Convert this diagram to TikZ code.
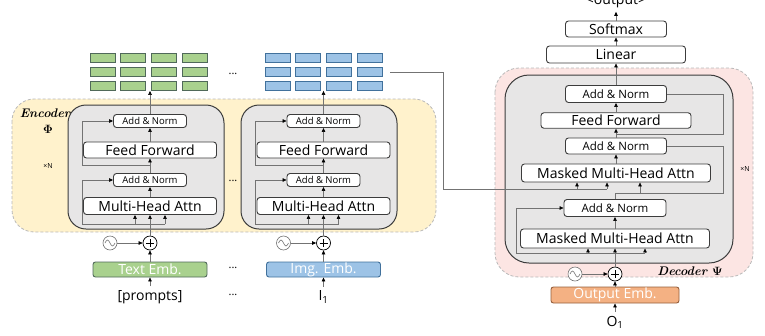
\documentclass[tikz,border=0pt]{standalone}
\usepackage{amsmath}
\usepackage{fontspec}
\setsansfont{Open Sans}
\usetikzlibrary{arrows.meta}

\definecolor{encfill}{RGB}{255,242,204}
\definecolor{decfill}{RGB}{252,229,227}
\definecolor{blockfill}{RGB}{231,230,230}
\definecolor{dashgray}{RGB}{185,185,185}
\definecolor{linegray}{RGB}{115,115,115}
\definecolor{boxline}{RGB}{60,60,60}
\definecolor{txtgreen}{RGB}{169,209,142}
\definecolor{txtgreenline}{RGB}{80,105,90}
\definecolor{imgblue}{RGB}{157,195,230}
\definecolor{imgblueline}{RGB}{65,113,156}
\definecolor{outorange}{RGB}{244,177,131}
\definecolor{outorangeline}{RGB}{150,95,60}

\tikzset{
  layerbox/.style={draw=boxline, fill=white, line width=0.9pt, rounded corners=3pt, inner sep=0pt, font=\sffamily\fontsize{14}{16}\selectfont},
  normbox/.style={layerbox, font=\sffamily\fontsize{9.5}{11}\selectfont},
  dnormbox/.style={layerbox, font=\sffamily\fontsize{11.5}{13}\selectfont},
  embbox/.style={draw=#1line, fill=#1, line width=0.9pt, rounded corners=2.5pt, inner sep=0pt, text=white, font=\sffamily\fontsize{14}{16}\selectfont},
  cell/.style={draw=#1line, fill=#1, line width=0.8pt, inner sep=0pt, minimum width=25pt, minimum height=9pt},
  plusnode/.style={circle, draw=black, fill=white, line width=0.7pt, inner sep=0pt, minimum size=14pt},
  sinenode/.style={circle, draw=linegray, fill=white, line width=0.6pt, inner sep=0pt, minimum size=14pt},
  plaintext/.style={inner sep=0pt, outer sep=4pt, font=\sffamily\fontsize{14}{16}\selectfont},
  dotstext/.style={inner sep=0pt, font=\sffamily\fontsize{11}{12}\selectfont},
  repeattext/.style={inner sep=0pt, font=\sffamily\fontsize{7}{8}\selectfont},
  parttext/.style={inner sep=0pt, font=\rmfamily\bfseries\itshape\fontsize{12.5}{14}\selectfont},
  wire/.style={draw=linegray, line width=0.6pt},
  feed/.style={wire, -{Triangle[length=4pt,width=3.5pt,black]}},
}

\begin{document}
\begin{tikzpicture}[x=1pt,y=1pt,yscale=-1,xscale=1]
\useasboundingbox (0,0) rectangle (765,335);

%Shape: Encoder frame
\draw [dashgray, fill=encfill, dash pattern=on 3pt off 2pt, line width=0.8pt, rounded corners=22pt] (12,99) rectangle (436,232);
%Shape: Decoder frame
\draw [dashgray, fill=decfill, dash pattern=on 3pt off 2pt, line width=0.8pt, rounded corners=24pt] (495,68) rectangle (753,277);
%Shape: Layer blocks
\draw [boxline, fill=blockfill, line width=1pt, rounded corners=18pt] (68,105) rectangle (224,229);
\draw [boxline, fill=blockfill, line width=1pt, rounded corners=18pt] (241,105) rectangle (397,229);
\draw [boxline, fill=blockfill, line width=1pt, rounded corners=24pt] (505,75) rectangle (733,263);

%Shape: Token grids
\foreach \c [count=\j] in {-46,-15.3,15.3,46} {
  \foreach \r [count=\i] in {57.5,71.8,86} {
    \node [cell=txtgreen] (gA\j\i) at (148.5+\c,\r) {};
    \node [cell=imgblue] (gB\j\i) at (323.5+\c,\r) {};
  }
}

% Encoder, text branch
\node [normbox, minimum width=73pt, minimum height=13pt] (aAN2) at (150,121) {Add \& Norm};
\node [layerbox, minimum width=133pt, minimum height=16pt] (aFF) at (150,150) {Feed Forward};
\node [normbox, minimum width=73pt, minimum height=13pt] (aAN1) at (150,180) {Add \& Norm};
\node [layerbox, minimum width=133pt, minimum height=17pt] (aMHA) at (150,206) {Multi-Head Attn};
\node [plusnode] (aPlus) at (150,243) {};
\node [sinenode] (aSine) at (110,243) {};
\node [embbox=txtgreen, minimum width=114pt, minimum height=15pt] (aEmb) at (150,269.5) {Text Emb.};
\node [plaintext] (aIn) at (150,297) {[prompts]};

% Encoder, image branch
\node [normbox, minimum width=73pt, minimum height=13pt] (bAN2) at (323.5,121) {Add \& Norm};
\node [layerbox, minimum width=133pt, minimum height=16pt] (bFF) at (323.5,150) {Feed Forward};
\node [normbox, minimum width=73pt, minimum height=13pt] (bAN1) at (323.5,180) {Add \& Norm};
\node [layerbox, minimum width=133pt, minimum height=17pt] (bMHA) at (323.5,206) {Multi-Head Attn};
\node [plusnode] (bPlus) at (323.5,243) {};
\node [sinenode] (bSine) at (283.5,243) {};
\node [embbox=imgblue, minimum width=114pt, minimum height=15pt] (bEmb) at (323.5,269.5) {Img. Emb.};
\node [plaintext] (bIn) at (323.5,297) {I\textsubscript{1}};

% Decoder
\node [plaintext] (dOut) at (616,1.5) {<output>};
\node [layerbox, minimum width=101pt, minimum height=16pt] (dSoft) at (616,29) {Softmax};
\node [layerbox, minimum width=139pt, minimum height=17pt] (dLin) at (616,54.5) {Linear};
\node [dnormbox, minimum width=101pt, minimum height=17pt] (dAN3) at (616,94) {Add \& Norm};
\node [layerbox, minimum width=150pt, minimum height=15.5pt] (dFF) at (616,120.5) {Feed Forward};
\node [dnormbox, minimum width=101pt, minimum height=16pt] (dAN2) at (616,146) {Add \& Norm};
\node [layerbox, minimum width=189pt, minimum height=18pt] (dMHA2) at (616,173) {Masked Multi-Head Attn};
\node [dnormbox, minimum width=102pt, minimum height=17pt] (dAN1) at (615,208) {Add \& Norm};
\node [layerbox, minimum width=189pt, minimum height=19pt] (dMHA1) at (615,238.5) {Masked Multi-Head Attn};
\node [plusnode] (dPlus) at (615,274) {};
\node [sinenode] (dSine) at (575,274) {};
\node [embbox=outorange, minimum width=128pt, minimum height=16pt] (dEmb) at (615,295) {Output Emb.};
\node [plaintext] (dIn) at (615,322) {O\textsubscript{1}};

% Text Node
\node [parttext] (encName) at (45,113) {Encoder};
\node [parttext] (encSym) at (48,129.5) {$\boldsymbol{\Phi}$};
\node [parttext] (decName) at (690,271) {Decoder $\boldsymbol{\Psi}$};
\node [repeattext] (encN) at (48,166) {×N};
\node [repeattext] (decN) at (745,169) {×N};
\node [dotstext] (dotsA) at (233,74) {...};
\node [dotstext] (dotsB) at (233,181) {...};
\node [dotstext] (dotsC) at (233,268) {...};
\node [dotstext] (dotsD) at (233,295) {...};

%Shape: Positional symbols
\foreach \s in {aSine,bSine,dSine} {
  \draw [linegray, line width=0.6pt] ([xshift=-5pt]\s.center) sin ++(2.5,-3) cos ++(2.5,3) sin ++(2.5,3) cos ++(2.5,-3);
}
\foreach \p in {aPlus,bPlus,dPlus} {
  \draw [black, line width=0.7pt] ([yshift=-4pt]\p.center) -- ([yshift=4pt]\p.center);
  \draw [black, line width=0.7pt] ([xshift=-4pt]\p.center) -- ([xshift=4pt]\p.center);
}

%Straight Lines: text branch
\coordinate (aQ) at (135,224);
\coordinate (aV) at (165,224);
\coordinate (aRes1) at (82,224);
\coordinate (aRes2) at (82,165);
\draw [feed] (aIn) -- (aEmb);
\draw [feed] (aEmb) -- (aPlus);
\draw [feed] (aSine) -- (aPlus);
\draw [feed] (aPlus) -- (aMHA);
\draw [feed] (aQ) -- (aQ |- aMHA.south);
\draw [feed] (aV) -- (aV |- aMHA.south);
\draw [feed] (aV) -- (aRes1) |- (aAN1.west);
\draw [feed] (aMHA) -- (aAN1);
\draw [feed] (aAN1) -- (aFF);
\draw [feed] (aRes2 -| aFF) -- (aRes2) |- (aAN2.west);
\draw [feed] (aFF) -- (aAN2);
\draw [feed] (aAN2) -- (aAN2 |- gA23.south);

%Straight Lines: image branch
\coordinate (bQ) at (308.5,224);
\coordinate (bV) at (338.5,224);
\coordinate (bRes1) at (255.5,224);
\coordinate (bRes2) at (255.5,165);
\draw [feed] (bIn) -- (bEmb);
\draw [feed] (bEmb) -- (bPlus);
\draw [feed] (bSine) -- (bPlus);
\draw [feed] (bPlus) -- (bMHA);
\draw [feed] (bQ) -- (bQ |- bMHA.south);
\draw [feed] (bV) -- (bV |- bMHA.south);
\draw [feed] (bV) -- (bRes1) |- (bAN1.west);
\draw [feed] (bMHA) -- (bAN1);
\draw [feed] (bAN1) -- (bFF);
\draw [feed] (bRes2 -| bFF) -- (bRes2) |- (bAN2.west);
\draw [feed] (bFF) -- (bAN2);
\draw [feed] (bAN2) -- (bAN2 |- gB23.south);

%Straight Lines: encoder memory into decoder
\coordinate (eBend) at (443,189);
\coordinate (dK2) at (577,189);
\coordinate (dV2) at (607,189);
\draw [wire] ([xshift=8pt]gB42.east) -| (eBend) -- (dV2);
\draw [feed] (dK2) -- (dK2 |- dMHA2.south);
\draw [feed] (dV2) -- (dV2 |- dMHA2.south);

%Straight Lines: decoder
\coordinate (dK1) at (588,253);
\coordinate (dV1) at (645,253);
\coordinate (dRes1) at (516,253);
\coordinate (dQ2) at (640,193);
\coordinate (dRes2) at (723,193);
\coordinate (dRes3) at (723,134);
\draw [feed] (dIn) -- (dEmb);
\draw [feed] (dEmb) -- (dPlus);
\draw [feed] (dSine) -- (dPlus);
\draw [feed] (dPlus) -- (dMHA1);
\draw [feed] (dK1) -- (dK1 |- dMHA1.south);
\draw [feed] (dV1) -- (dV1 |- dMHA1.south);
\draw [feed] (dV1) -- (dRes1) |- (dAN1.west);
\draw [feed] (dMHA1) -- (dAN1);
\draw [wire] (dAN1) -- (dAN1 |- dRes2) -- (dRes2) |- (dAN2.east);
\draw [feed] (dQ2) -- (dQ2 |- dMHA2.south);
\draw [feed] (dMHA2.north -| dAN2) -- (dAN2);
\draw [feed] (dAN2) -- (dFF);
\draw [wire] (dRes3 -| dFF) -- (dRes3) |- (dAN3.east);
\draw [feed] (dFF) -- (dAN3);
\draw [feed] (dAN3) -- (dLin);
\draw [feed] (dLin) -- (dSoft);
\draw [feed] (dSoft) -- (dOut);

\end{tikzpicture}
\end{document}
